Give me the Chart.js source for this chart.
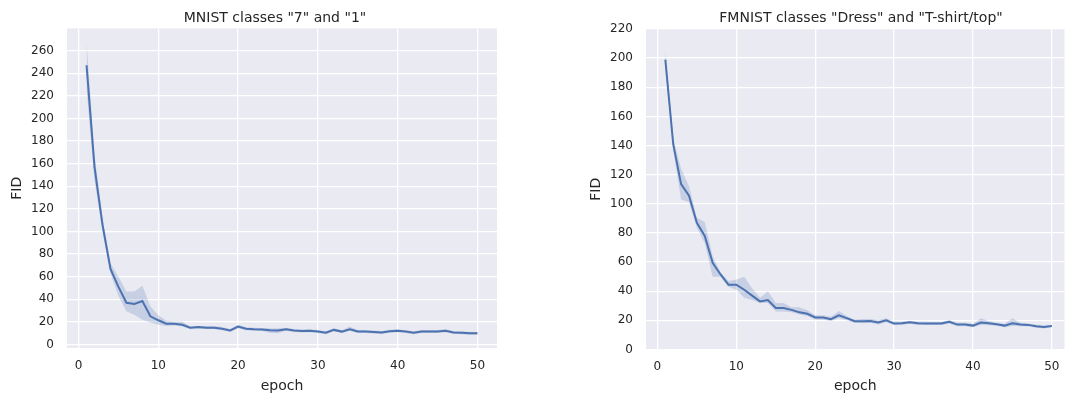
<!DOCTYPE html>
<html>
<head>
<meta charset="utf-8">
<script src="https://cdn.jsdelivr.net/npm/chart.js@4"></script>
<style>
  html, body { margin: 0; padding: 0; background: #ffffff; overflow: hidden; }
  #left { position: absolute; left: 0; top: 0; }
  #right { position: absolute; left: 580px; top: 0; }
</style>
</head>
<body>
<canvas id="left" width="540" height="398"></canvas>
<canvas id="right" width="490" height="398"></canvas>
<script>
const epochs = [1, 2, 3, 4, 5, 6, 7, 8, 9, 10, 11, 12, 13, 14, 15, 16, 17, 18, 19, 20,
    21, 22, 23, 24, 25, 26, 27, 28, 29, 30, 31, 32, 33, 34, 35, 36, 37, 38, 39, 40,
    41, 42, 43, 44, 45, 46, 47, 48, 49, 50];

// MNIST "7" and "1"
const mnistMean = [247, 157, 106, 67, 51, 37, 36, 38.5, 25, 21.5, 18.5, 18.5, 17.5, 15, 15.5, 15, 15, 14, 12.5, 16,
    14, 13.5, 13.3, 12.8, 12.5, 13.5, 12.5, 12, 12.2, 11.6, 10.5, 13, 11.5, 13.5, 11.6, 11.6, 11.2, 10.7, 11.8, 12.2,
    11.5, 10.5, 11.6, 11.6, 11.6, 12.2, 10.7, 10.5, 10, 10];
const mnistUpper = [268, 168, 112, 72, 60, 47, 47, 52, 34, 26, 21, 20.5, 20.5, 16, 16.5, 16.5, 16.5, 15.5, 13.8, 17.5,
    15.3, 14.8, 14.6, 14.5, 14.5, 14.8, 13.8, 13.3, 13.5, 12.9, 11.8, 14.5, 12.8, 16, 12.9, 12.9, 12.5, 12, 13.1, 13.5,
    12.8, 11.8, 12.9, 12.9, 12.9, 13.5, 12, 11.8, 11.3, 11.3];
const mnistLower = [226, 145, 100, 63, 43, 29.5, 26.5, 22, 19.5, 17.5, 16.5, 17, 16, 13.5, 14, 13.8, 13.8, 12.7, 11.2, 14.5,
    12.7, 12.2, 12, 10.3, 10, 12.2, 11.2, 10.7, 10.9, 10.3, 9.2, 11.7, 10.2, 12.2, 10.3, 10.3, 9.9, 9.4, 10.5, 10.9,
    10.2, 9.2, 10.3, 10.3, 10.3, 10.9, 9.4, 9.2, 8.7, 8.7];

// FMNIST "Dress" and "T-shirt/top"
const fmnistMean = [199, 141, 113.5, 105.5, 87, 78, 59.5, 51.5, 44.5, 44.5, 41, 37, 33, 34, 28.5, 28.5, 27.2, 25.5, 24.5, 22,
    22, 20.8, 23.5, 21.5, 19.4, 19.4, 19.6, 18.5, 20, 17.8, 18, 18.7, 18, 17.8, 17.8, 17.8, 19, 17.1, 17.1, 16.4,
    18.5, 18, 17.3, 16.4, 18, 17.1, 16.9, 16, 15.5, 16.2];
const fmnistUpper = [206, 145, 124, 112, 90.5, 87.5, 64, 53, 47, 48, 50, 42, 35.5, 40, 32, 32, 29, 29, 27, 23.5,
    23.5, 22.5, 26.5, 23, 20.5, 21, 21, 20, 21.5, 19, 19.2, 19.8, 19, 19, 18.8, 18.8, 20.2, 18.3, 18.3, 17.6,
    21.5, 19.5, 18.3, 17.6, 21.5, 18.3, 17.8, 17, 16.5, 17];
const fmnistLower = [193, 137, 103, 101, 83.5, 73, 50, 50, 43, 41, 35.5, 34, 32, 32, 26, 26, 25.5, 24, 23, 20.5,
    20.5, 19.5, 21.5, 20, 18.3, 18, 18.4, 17.2, 18.8, 16.7, 16.9, 17.6, 16.9, 16.8, 16.8, 16.8, 17.8, 16, 16, 15.3,
    16.8, 16.6, 16.3, 15.3, 16.2, 16, 16, 15, 14.5, 15.4];

const xTicks = [0, 10, 20, 30, 40, 50];
const mnistYTicks = [0, 20, 40, 60, 80, 100, 120, 140, 160, 180, 200, 220, 240, 260];
const fmnistYTicks = [0, 20, 40, 60, 80, 100, 120, 140, 160, 180, 200, 220];

Chart.defaults.font.family = '"DejaVu Sans", sans-serif';
Chart.defaults.color = '#262626';

const lineColor = '#4C72B0';
const bandColor = 'rgba(76, 114, 176, 0.22)';

// seaborn-style grey plot background
const plotBg = {
    id: 'plotBg',
    beforeDraw(chart) {
        const a = chart.chartArea;
        const ctx = chart.ctx;
        ctx.save();
        ctx.fillStyle = '#EAEAF2';
        ctx.fillRect(a.left, a.top, a.right - a.left, a.bottom - a.top);
        ctx.restore();
    }
};

// title centred over the axes like matplotlib
const axTitle = {
    id: 'axTitle',
    afterDraw(chart, args, opts) {
        const ctx = chart.ctx;
        ctx.save();
        ctx.font = '14px "DejaVu Sans"';
        ctx.fillStyle = '#262626';
        ctx.textAlign = 'center';
        ctx.textBaseline = 'alphabetic';
        ctx.fillText(opts.text, opts.x, opts.y);
        ctx.restore();
    }
};

function pts(ys) {
    return epochs.map((e, i) => ({ x: e, y: ys[i] }));
}

function makeChart(id, cfg) {
    return new Chart(document.getElementById(id), {
        type: 'line',
        data: {
            datasets: [
                {
                    data: pts(cfg.mean),
                    borderColor: lineColor,
                    borderWidth: 2,
                    pointRadius: 0,
                    fill: false
                },
                {
                    data: pts(cfg.upper),
                    borderWidth: 0,
                    borderColor: 'rgba(0,0,0,0)',
                    backgroundColor: bandColor,
                    pointRadius: 0,
                    fill: '+1'
                },
                {
                    data: pts(cfg.lower),
                    borderWidth: 0,
                    borderColor: 'rgba(0,0,0,0)',
                    pointRadius: 0,
                    fill: false
                }
            ]
        },
        options: {
            responsive: false,
            animation: false,
            devicePixelRatio: 1,
            layout: { padding: cfg.padding },
            plugins: {
                legend: { display: false },
                tooltip: { enabled: false },
                axTitle: { text: cfg.title, x: cfg.titleX, y: 21.5 }
            },
            scales: {
                x: {
                    type: 'linear',
                    min: -1.45,
                    max: cfg.xMax,
                    afterBuildTicks: (s) => { s.ticks = xTicks.map(v => ({ value: v })); },
                    afterFit: (s) => { s.height = cfg.xHeight; },
                    grid: { color: '#ffffff', lineWidth: 1.3, drawTicks: false },
                    border: { display: false },
                    ticks: { padding: 10.5, font: { size: 12 } },
                    title: { display: true, text: 'epoch', font: { size: 14 }, padding: { bottom: 3 } }
                },
                y: {
                    type: 'linear',
                    min: cfg.yMin,
                    max: cfg.yMax,
                    afterBuildTicks: (s) => { s.ticks = cfg.yTicks.map(v => ({ value: v })); },
                    afterFit: (s) => { s.width = cfg.yWidth; },
                    grid: { color: '#ffffff', lineWidth: 1.3, drawTicks: false },
                    border: { display: false },
                    ticks: { padding: 13, font: { size: 12 } },
                    title: { display: true, text: 'FID', font: { size: 14 }, padding: { top: cfg.yTitlePad } }
                }
            }
        },
        plugins: [plotBg, axTitle]
    });
}

makeChart('left', {
    mean: mnistMean, upper: mnistUpper, lower: mnistLower,
    title: 'MNIST classes "7" and "1"', titleX: 275,
    padding: { top: 28.5, right: 43, left: 0, bottom: 0 },
    xMax: 52.45, xHeight: 50,
    yMin: -3, yMax: 279.5, yTicks: mnistYTicks, yWidth: 67, yTitlePad: 8.5
});

makeChart('right', {
    mean: fmnistMean, upper: fmnistUpper, lower: fmnistLower,
    title: 'FMNIST classes "Dress" and "T-shirt/top"', titleX: 281,
    padding: { top: 29, right: 0, left: 0, bottom: 0 },
    xMax: 51.6, xHeight: 48.5,
    yMin: 0, yMax: 220, yTicks: fmnistYTicks, yWidth: 66, yTitlePad: 7.5
});
</script>
</body>
</html>
